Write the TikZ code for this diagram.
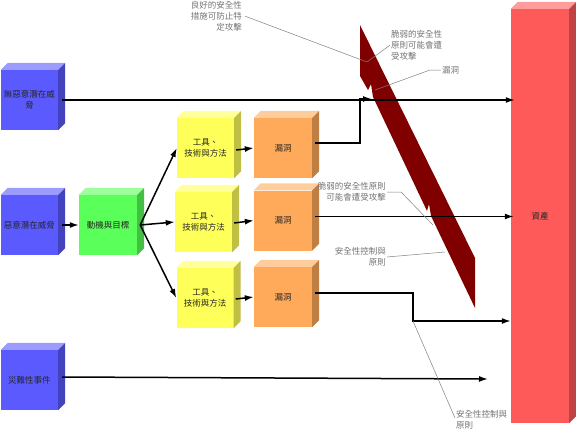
\documentclass[tikz,border=0pt]{standalone}
\usepackage{fontspec}
\setmainfont{Noto Sans CJK TC}
\usetikzlibrary{arrows.meta}

\definecolor{bluefront}{HTML}{5A5AFF}
\definecolor{bluetop}{HTML}{9C9CFF}
\definecolor{blueside}{HTML}{4343BF}
\definecolor{greenfront}{HTML}{5AFF5A}
\definecolor{greentop}{HTML}{9CFF9C}
\definecolor{greenside}{HTML}{43BF43}
\definecolor{yellowfront}{HTML}{FFFF5A}
\definecolor{yellowtop}{HTML}{FFFF9C}
\definecolor{yellowside}{HTML}{BFBF43}
\definecolor{orangefront}{HTML}{FFAA5A}
\definecolor{orangetop}{HTML}{FFCC9C}
\definecolor{orangeside}{HTML}{BF7F43}
\definecolor{redfront}{HTML}{FF5A5A}
\definecolor{redtop}{HTML}{FF9C9C}
\definecolor{redside}{HTML}{BF4343}
\definecolor{boltred}{HTML}{800000}

\tikzset{
    block/.style={minimum width=57pt,minimum height=60pt,inner sep=1pt,
        font=\fontsize{8.5}{10.5}\selectfont,align=center,text=black!85},
    flow/.style={line width=1.5pt,-{Latex[length=9pt,width=6pt]}},
    lead/.style={gray,line width=0.5pt},
    note/.style={font=\fontsize{8.5}{11}\selectfont,text=gray!90!black,inner sep=1pt}
}
% top and side faces of a box
\newcommand{\boxfaces}[3]{%
    \fill[#2] (#1.north west) -- ++(7,-7) -- ([shift={(7,-7)}]#1.north east) -- (#1.north east) -- cycle;
    \fill[#3] (#1.north east) -- ++(7,-7) -- ([shift={(7,-7)}]#1.south east) -- (#1.south east) -- cycle;}

\begin{document}
\begin{tikzpicture}[x=1pt,y=-1pt]
    \useasboundingbox (0,0) rectangle (576,431);
    %% threats
    \node[block,fill=bluefront] (nonmal) at (29.5,100) {無惡意潛在威\\脅};
    \node[block,fill=bluefront] (mal) at (29.5,225) {惡意潛在威脅};
    \node[block,fill=bluefront] (disaster) at (29.5,380) {災難性事件};
    \boxfaces{nonmal}{bluetop}{blueside}
    \boxfaces{mal}{bluetop}{blueside}
    \boxfaces{disaster}{bluetop}{blueside}
    %% motive
    \node[block,fill=greenfront,minimum width=58pt] (motive) at (108,225) {動機與目標};
    \boxfaces{motive}{greentop}{greenside}
    %% tools
    \node[block,fill=yellowfront] (tools1) at (205.5,148) {工具、\\技術與方法};
    \node[block,fill=yellowfront] (tools2) at (203.5,222) {工具、\\技術與方法};
    \node[block,fill=yellowfront] (tools3) at (205,298) {工具、\\技術與方法};
    \boxfaces{tools1}{yellowtop}{yellowside}
    \boxfaces{tools2}{yellowtop}{yellowside}
    \boxfaces{tools3}{yellowtop}{yellowside}
    %% vulnerabilities
    \node[block,fill=orangefront,minimum width=58pt] (vuln1) at (283,148) {漏洞};
    \node[block,fill=orangefront,minimum width=58pt] (vuln2) at (283,220.5) {漏洞};
    \node[block,fill=orangefront,minimum width=58pt] (vuln3) at (283,297) {漏洞};
    \boxfaces{vuln1}{orangetop}{orangeside}
    \boxfaces{vuln2}{orangetop}{orangeside}
    \boxfaces{vuln3}{orangetop}{orangeside}
    %% asset
    \node[block,fill=redfront,minimum width=58pt,minimum height=414pt] (asset) at (540,216) {資產};
    \boxfaces{asset}{redtop}{redside}
    %% security wall
    \fill[boltred] (360,25) -- (475,258) -- (475,308) -- (431,216) -- (429,204) -- (427,211)
        -- (373,97) -- (371,84) -- (368,90) -- (360,76) -- cycle;
    %% points on the wall and path corners
    \coordinate (hit1) at (372,99);
    \coordinate (corner3) at (413,321);
    \coordinate (hit3) at (488,379);
    \coordinate (wallA) at (367,62);
    \coordinate (wallB) at (375,90);
    \coordinate (wallC) at (433,225);
    \coordinate (wallD) at (445,252);
    %% flows
    \draw[flow] ([xshift=4pt]nonmal.east) -- ([xshift=4pt]nonmal.east -| asset.west);
    \draw[flow] ([xshift=4pt]mal.east) -- (motive.west);
    \draw[flow] ([xshift=3pt]motive.east) -- (tools1.west);
    \draw[flow] ([xshift=3pt]motive.east) -- (tools2.west);
    \draw[flow] ([xshift=3pt]motive.east) -- (tools3.west);
    \draw[flow] ([shift={(2pt,-2pt)}]tools1.east) -- (vuln1.west);
    \draw[flow] ([shift={(2pt,-1pt)}]tools2.east) -- (vuln2.west);
    \draw[flow] ([shift={(2pt,-1pt)}]tools3.east) -- (vuln3.west);
    \draw[flow] ([shift={(3pt,5pt)}]vuln1.east) -| ([xshift=-12pt]hit1) -- (hit1);
    \draw[flow] ([shift={(3pt,4pt)}]vuln2.east) -- ([shift={(3pt,4pt)}]vuln2.east -| asset.west);
    \draw[flow] ([shift={(3pt,4pt)}]vuln3.east) -| (corner3) -- (corner3 -| asset.west);
    \draw[flow] ([shift={(4pt,3pt)}]disaster.east) -- (hit3);
    %% callouts
    \node[note,anchor=north east,align=right] (goodsec) at (243,0) {良好的安全性\\措施可防止特\\定攻擊};
    \node[note,anchor=north west,align=left] (weaksecA) at (390,29) {脆弱的安全性\\原則可能會遭\\受攻擊};
    \node[note,anchor=west] (hole) at (441,70) {漏洞};
    \node[note,anchor=east,align=right] (weaksecB) at (387,192) {脆弱的安全性原則\\可能會遭受攻擊};
    \node[note,anchor=east,align=right] (controlA) at (387,257) {安全性控制與\\原則};
    \node[note,anchor=west,align=left] (controlB) at (455,420) {安全性控制與\\原則};
    \draw[lead] ([xshift=2pt]goodsec.east) -- (wallA);
    \draw[lead] (weaksecA.west) -- (wallA);
    \draw[lead] (hole.west) -- ++(-11,0) -- (wallB);
    \draw[lead] (weaksecB.east) -- ++(14,0) -- (wallC);
    \draw[lead] (controlA.east) -- (wallD);
    \draw[lead] ([yshift=2pt]controlB.west) -- (corner3);
\end{tikzpicture}
\end{document}
